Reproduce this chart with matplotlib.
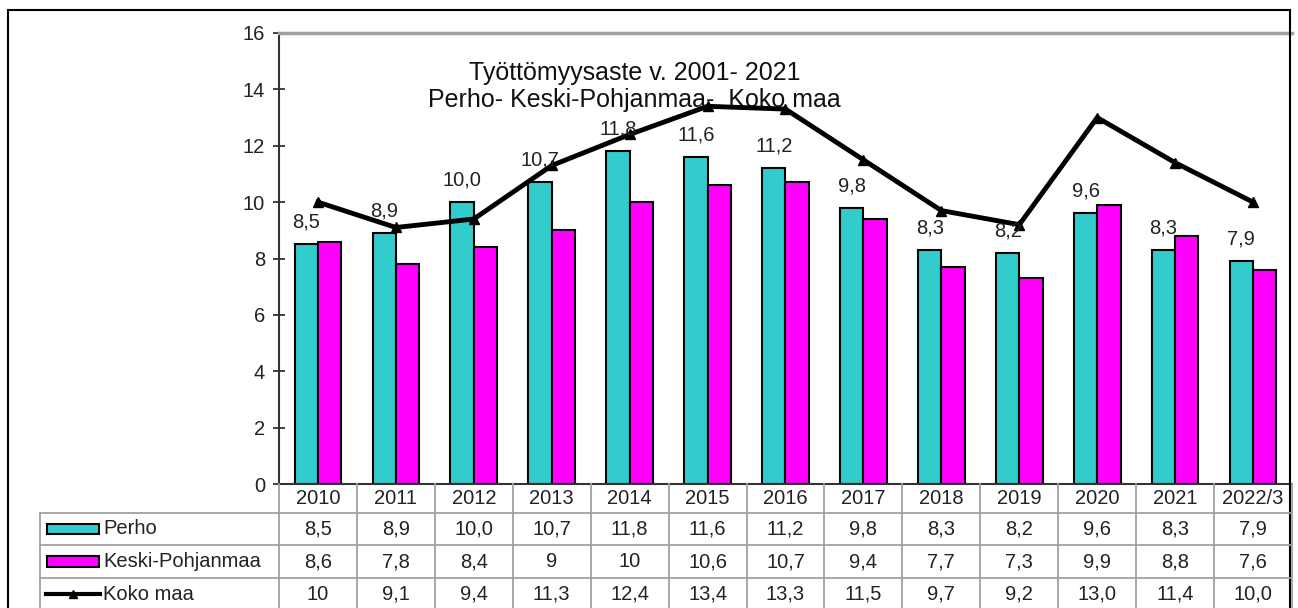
import matplotlib.pyplot as plt
from matplotlib.patches import Rectangle
from matplotlib.lines import Line2D
import matplotlib.transforms as mtransforms

plt.rcParams['font.family'] = ['Liberation Sans', 'DejaVu Sans']

# data
years = ['2010', '2011', '2012', '2013', '2014', '2015', '2016', '2017',
         '2018', '2019', '2020', '2021', '2022/3']
perho = [8.5, 8.9, 10.0, 10.7, 11.8, 11.6, 11.2, 9.8, 8.3, 8.2, 9.6, 8.3, 7.9]
keski = [8.6, 7.8, 8.4, 9, 10, 10.6, 10.7, 9.4, 7.7, 7.3, 9.9, 8.8, 7.6]
koko = [10, 9.1, 9.4, 11.3, 12.4, 13.4, 13.3, 11.5, 9.7, 9.2, 13.0, 11.4, 10.0]
perho_txt = ['8,5', '8,9', '10,0', '10,7', '11,8', '11,6', '11,2', '9,8', '8,3', '8,2', '9,6', '8,3', '7,9']
keski_txt = ['8,6', '7,8', '8,4', '9', '10', '10,6', '10,7', '9,4', '7,7', '7,3', '9,9', '8,8', '7,6']
koko_txt = ['10', '9,1', '9,4', '11,3', '12,4', '13,4', '13,3', '11,5', '9,7', '9,2', '13,0', '11,4', '10,0']
series_names = ['Perho', 'Keski-Pohjanmaa', 'Koko maa']

W, H = 1298, 608
teal = '#33CCCC'
magenta = '#FF00FF'
grid_c = '#A0A0A0'
txt_c = '#222222'
fs = 14.5


def fy(py):
    # pixel row (from top) -> figure fraction
    return 1 - py / H


def fx(px):
    return px / W


def main():
    fig = plt.figure(figsize=(W / 100, H / 100), dpi=100)
    ax = fig.add_axes([fx(279), fy(484), fx(1292) - fx(279), fy(33) - fy(484)])

    x = list(range(len(years)))
    bw = 0.3
    ax.bar([i - bw / 2 for i in x], perho, bw, color=teal, edgecolor='black', linewidth=1.5, zorder=2)
    ax.bar([i + bw / 2 for i in x], keski, bw, color=magenta, edgecolor='black', linewidth=1.5, zorder=2)
    ax.plot(x, koko, color='black', linewidth=3.5, marker='^', markersize=7, zorder=3)

    for i, v in enumerate(perho):
        ax.annotate(perho_txt[i], (i - bw / 2, v), xytext=(0, 9), textcoords='offset points',
                    ha='center', va='bottom', fontsize=fs, color=txt_c, zorder=4)

    ax.set_xlim(-0.5, len(years) - 0.5)
    ax.set_ylim(0, 16)
    ax.set_yticks(range(0, 17, 2))
    ax.tick_params(axis='y', direction='inout', length=8, width=1.2, labelsize=fs, pad=6, colors=txt_c)
    ax.set_xticks([])
    ax.spines['right'].set_visible(False)
    ax.spines['top'].set_color(grid_c)
    ax.spines['top'].set_linewidth(2.5)
    ax.spines['left'].set_color('#333333')
    ax.spines['left'].set_linewidth(1.5)
    ax.spines['bottom'].set_color('#333333')
    ax.spines['bottom'].set_linewidth(1.5)

    ax.text(0.351, 0.882, 'Työttömyysaste v. 2001- 2021\nPerho- Keski-Pohjanmaa-  Koko maa',
            transform=ax.transAxes, ha='center', va='center', fontsize=18,
            linespacing=1.15, color='#111111', zorder=1)

    # data table under the chart
    tr = mtransforms.blended_transform_factory(ax.transData, fig.transFigure)
    rows_top = [484, 513, 545, 578, 612]
    for i in range(len(years) + 1):
        fig.add_artist(Line2D([i - 0.5, i - 0.5], [fy(484), fy(612)], transform=tr,
                              color=grid_c, linewidth=1.3))
    for r in rows_top[1:4]:
        fig.add_artist(Line2D([fx(40), fx(1292)], [fy(r), fy(r)], transform=fig.transFigure,
                              color=grid_c, linewidth=1.3))
    fig.add_artist(Line2D([fx(40), fx(40)], [fy(513), fy(612)], transform=fig.transFigure,
                          color=grid_c, linewidth=1.3))

    rows = [years, perho_txt, keski_txt, koko_txt]
    for k, vals in enumerate(rows):
        yc = fy((rows_top[k] + min(rows_top[k + 1], 610)) / 2)
        for i, s in enumerate(vals):
            fig.text(i, yc, s, transform=tr, ha='center', va='center', fontsize=fs, color=txt_c)

    # legend keys in table
    for k, name in enumerate(series_names):
        yc = fy((rows_top[k + 1] + min(rows_top[k + 2], 610)) / 2)
        if k < 2:
            fig.add_artist(Rectangle((fx(47), yc - 0.009), fx(52), 0.018, transform=fig.transFigure,
                                     facecolor=[teal, magenta][k], edgecolor='black', linewidth=1.5))
        else:
            fig.add_artist(Line2D([fx(46), fx(100)], [yc, yc], transform=fig.transFigure,
                                  color='black', linewidth=3))
            fig.add_artist(Line2D([fx(73)], [yc], transform=fig.transFigure,
                                  color='black', marker='^', markersize=6, linestyle='none'))
        fig.text(fx(103), yc, name, ha='left', va='center', fontsize=fs, color=txt_c)

    # outer chart border
    fig.add_artist(Rectangle((fx(8), fy(640)), fx(1290) - fx(8), fy(10) - fy(640),
                             transform=fig.transFigure, fill=False, edgecolor='black', linewidth=1.5))

    fig.savefig('out.png', dpi=100)


if __name__ == "__main__":
    main()
